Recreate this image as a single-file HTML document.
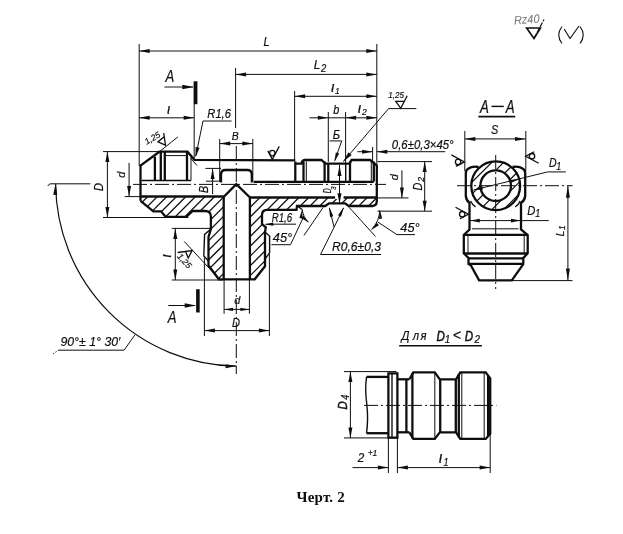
<!DOCTYPE html>
<html><head><meta charset="utf-8"><title>Черт. 2</title>
<style>
html,body{margin:0;padding:0;background:#fff;}
body{width:623px;height:534px;overflow:hidden;font-family:"Liberation Sans",sans-serif;}
svg{display:block}
</style></head><body>
<svg width="623" height="534" viewBox="0 0 623 534" stroke="#111" fill="none" stroke-linecap="butt" stroke-linejoin="miter">
<rect x="0" y="0" width="623" height="534" fill="#fff" stroke="none"/>
<defs><filter id="bl" x="0" y="0" width="623" height="534" filterUnits="userSpaceOnUse"><feGaussianBlur stdDeviation="0.4"/></filter></defs>
<g filter="url(#bl)">
<clipPath id="c1"><path d="M140.5,196.5 L223.7,196.5 L223.7,279.3 L218.9,279.3 L208.5,265.5 L208.5,237.0 L210.9,229.0 L210.9,214.5 L207.0,210.8 L192.7,211.0 L186.2,216.8 L165.6,216.8 L161.0,211.3 L153.4,211.3 L140.5,200.8 Z" clip-rule="evenodd"/></clipPath>
<g clip-path="url(#c1)">
<line x1="139.5" y1="195.2" x2="224.7" y2="110.1" stroke-width="1.3" />
<line x1="139.5" y1="204.8" x2="224.7" y2="119.6" stroke-width="1.3" />
<line x1="139.5" y1="214.4" x2="224.7" y2="129.2" stroke-width="1.3" />
<line x1="139.5" y1="223.9" x2="224.7" y2="138.7" stroke-width="1.3" />
<line x1="139.5" y1="233.5" x2="224.7" y2="148.3" stroke-width="1.3" />
<line x1="139.5" y1="243.0" x2="224.7" y2="157.8" stroke-width="1.3" />
<line x1="139.5" y1="252.6" x2="224.7" y2="167.4" stroke-width="1.3" />
<line x1="139.5" y1="262.1" x2="224.7" y2="176.9" stroke-width="1.3" />
<line x1="139.5" y1="271.7" x2="224.7" y2="186.5" stroke-width="1.3" />
<line x1="139.5" y1="281.2" x2="224.7" y2="196.0" stroke-width="1.3" />
<line x1="139.5" y1="290.8" x2="224.7" y2="205.6" stroke-width="1.3" />
<line x1="139.5" y1="300.3" x2="224.7" y2="215.1" stroke-width="1.3" />
<line x1="139.5" y1="309.9" x2="224.7" y2="224.7" stroke-width="1.3" />
<line x1="139.5" y1="319.4" x2="224.7" y2="234.2" stroke-width="1.3" />
<line x1="139.5" y1="329.0" x2="224.7" y2="243.8" stroke-width="1.3" />
<line x1="139.5" y1="338.5" x2="224.7" y2="253.3" stroke-width="1.3" />
<line x1="139.5" y1="348.1" x2="224.7" y2="262.9" stroke-width="1.3" />
<line x1="139.5" y1="357.6" x2="224.7" y2="272.4" stroke-width="1.3" />
<line x1="139.5" y1="367.2" x2="224.7" y2="282.0" stroke-width="1.3" />
</g>
<clipPath id="c2"><path d="M249.9,197.5 L376.8,197.5 L376.8,201.2 L373.0,206.0 L348.7,206.0 L345.0,203.4 L329.0,203.4 L325.3,206.0 L297.0,206.0 L296.5,209.8 L266.5,209.8 L262.0,214.5 L262.0,224.0 L265.0,232.0 L265.0,266.3 L254.7,279.3 L249.9,279.3 Z" clip-rule="evenodd"/></clipPath>
<g clip-path="url(#c2)">
<line x1="248.9" y1="189.1" x2="377.8" y2="60.2" stroke-width="1.3" />
<line x1="248.9" y1="198.8" x2="377.8" y2="69.9" stroke-width="1.3" />
<line x1="248.9" y1="208.6" x2="377.8" y2="79.7" stroke-width="1.3" />
<line x1="248.9" y1="218.3" x2="377.8" y2="89.4" stroke-width="1.3" />
<line x1="248.9" y1="228.1" x2="377.8" y2="99.2" stroke-width="1.3" />
<line x1="248.9" y1="237.8" x2="377.8" y2="108.9" stroke-width="1.3" />
<line x1="248.9" y1="247.6" x2="377.8" y2="118.7" stroke-width="1.3" />
<line x1="248.9" y1="257.4" x2="377.8" y2="128.4" stroke-width="1.3" />
<line x1="248.9" y1="267.1" x2="377.8" y2="138.2" stroke-width="1.3" />
<line x1="248.9" y1="276.9" x2="377.8" y2="147.9" stroke-width="1.3" />
<line x1="248.9" y1="286.6" x2="377.8" y2="157.7" stroke-width="1.3" />
<line x1="248.9" y1="296.4" x2="377.8" y2="167.4" stroke-width="1.3" />
<line x1="248.9" y1="306.1" x2="377.8" y2="177.2" stroke-width="1.3" />
<line x1="248.9" y1="315.9" x2="377.8" y2="186.9" stroke-width="1.3" />
<line x1="248.9" y1="325.6" x2="377.8" y2="196.7" stroke-width="1.3" />
<line x1="248.9" y1="335.4" x2="377.8" y2="206.4" stroke-width="1.3" />
<line x1="248.9" y1="345.1" x2="377.8" y2="216.2" stroke-width="1.3" />
<line x1="248.9" y1="354.9" x2="377.8" y2="225.9" stroke-width="1.3" />
<line x1="248.9" y1="364.6" x2="377.8" y2="235.7" stroke-width="1.3" />
<line x1="248.9" y1="374.4" x2="377.8" y2="245.4" stroke-width="1.3" />
<line x1="248.9" y1="384.1" x2="377.8" y2="255.2" stroke-width="1.3" />
<line x1="248.9" y1="393.9" x2="377.8" y2="264.9" stroke-width="1.3" />
<line x1="248.9" y1="403.6" x2="377.8" y2="274.7" stroke-width="1.3" />
<line x1="248.9" y1="413.4" x2="377.8" y2="284.4" stroke-width="1.3" />
</g>
<path d="M140.5,200.8 L140.5,165.6 L159.4,151.7 L187.5,151.7 L194.5,159.8 L295.3,160.3" stroke-width="2.3" fill="none" />
<line x1="154.9" y1="156.5" x2="154.9" y2="180.5" stroke-width="2.3" />
<line x1="160.8" y1="152.0" x2="160.8" y2="180.5" stroke-width="2.3" />
<line x1="164.8" y1="151.7" x2="164.8" y2="180.5" stroke-width="2.3" />
<line x1="187.0" y1="151.7" x2="187.0" y2="180.5" stroke-width="2.3" />
<line x1="191.0" y1="156.5" x2="191.0" y2="180.5" stroke-width="1.0" />
<line x1="164.8" y1="155.6" x2="187.0" y2="155.6" stroke-width="1.0" />
<line x1="141.5" y1="180.5" x2="191.0" y2="180.5" stroke-width="1.3" />
<line x1="190.5" y1="158.0" x2="197.0" y2="165.5" stroke-width="1.0" />
<path d="M140.5,200.8 L153.4,211.3 L161.0,211.3 L165.6,216.8 L186.2,216.8 L192.7,211.0 L205.0,211.0" stroke-width="2.3" fill="none" />
<path d="M205,211 Q210.9,211 210.9,216.5 L210.9,229 L208.5,237 L208.5,265.5 L218.9,279.3 L254.7,279.3 L265,266.3 L265,232 L265.8,227.3 L262,224 L262,215 Q262,209.8 267,209.8 L296.5,209.8 L297,206 L325.3,206 L329,203.4 L345,203.4 L348.7,206 L372.5,206 Q376.8,205.5 376.8,201.2 L376.8,165.6 L370.2,160 L351.5,160 L349.6,163.7 L325.3,163.7 L321.5,160 L304.7,160 Q302,160.5 301.5,163.7 L295.3,163.7" stroke-width="2.3" fill="none" />
<path d="M210.9,229.0 L204.6,234.4 L203.8,256.0 L208.5,261.0" stroke-width="1.4" fill="none" />
<path d="M265.0,232.0 L269.6,236.0 L269.6,252.8 L265.0,259.0" stroke-width="1.4" fill="none" />
<line x1="140.5" y1="196.5" x2="223.7" y2="196.5" stroke-width="2.3" />
<line x1="249.9" y1="197.5" x2="376.8" y2="197.5" stroke-width="2.3" />
<path d="M223.7,279.3 L223.7,197.0 L236.3,184.2 L249.9,197.5 L249.9,279.3" stroke-width="2.3" fill="none" />
<path d="M221,182.5 L221,174.5 Q221,170 225.5,170 L247.3,170 Q251.8,170 251.8,174.5 L251.8,182.5" stroke-width="2.3" fill="none" />
<line x1="295.3" y1="161.5" x2="295.3" y2="181.5" stroke-width="2.3" />
<line x1="303.5" y1="161.5" x2="303.5" y2="181.5" stroke-width="2.3" />
<line x1="306.3" y1="161.5" x2="306.3" y2="181.5" stroke-width="1.0" />
<line x1="324.6" y1="161.5" x2="324.6" y2="181.5" stroke-width="2.3" />
<line x1="328.3" y1="163.7" x2="328.3" y2="181.5" stroke-width="2.3" />
<line x1="345.7" y1="163.7" x2="345.7" y2="181.5" stroke-width="1.4" />
<line x1="350.0" y1="161.5" x2="350.0" y2="181.5" stroke-width="2.3" />
<line x1="371.3" y1="161.5" x2="371.3" y2="181.5" stroke-width="1.0" />
<line x1="373.8" y1="161.5" x2="373.8" y2="181.5" stroke-width="2.3" />
<line x1="253.5" y1="181.9" x2="373.8" y2="181.9" stroke-width="2.3" />
<line x1="206.0" y1="181.2" x2="220.0" y2="181.2" stroke-width="1.0" />
<line x1="297.5" y1="206.0" x2="302.0" y2="209.5" stroke-width="1.4" />
<line x1="133.0" y1="184.4" x2="386.0" y2="184.4" stroke-width="1.0" stroke-dasharray="14 3 2 3"/>
<line x1="236.3" y1="146.0" x2="236.3" y2="374.0" stroke-width="1.0" stroke-dasharray="14 3 2 3"/>
<line x1="139.2" y1="44.0" x2="139.2" y2="166.0" stroke-width="1.0" />
<line x1="376.8" y1="44.0" x2="376.8" y2="170.0" stroke-width="1.0" />
<line x1="139.2" y1="51.0" x2="376.8" y2="51.0" stroke-width="1.0" />
<polygon points="139.2,51.0 149.7,49.0 149.7,53.0" fill="#111" stroke="none"/>
<polygon points="376.8,51.0 366.3,53.0 366.3,49.0" fill="#111" stroke="none"/>
<text transform="translate(266.5,46.3) scale(0.9,1)" font-family="Liberation Sans" font-size="12.5" font-style="italic" font-weight="normal" text-anchor="middle" fill="#111" stroke="#111" stroke-width="0.2" >L</text>
<line x1="235.6" y1="68.0" x2="235.6" y2="128.0" stroke-width="1.0" />
<line x1="235.6" y1="74.4" x2="376.8" y2="74.4" stroke-width="1.0" />
<polygon points="235.6,74.4 246.1,72.4 246.1,76.4" fill="#111" stroke="none"/>
<polygon points="376.8,74.4 366.3,76.4 366.3,72.4" fill="#111" stroke="none"/>
<text transform="translate(317.0,68.7) scale(0.9,1)" font-family="Liberation Sans" font-size="13.5" font-style="italic" font-weight="normal" text-anchor="middle" fill="#111" stroke="#111" stroke-width="0.2" >L</text>
<text transform="translate(323.7,71.5) scale(0.9,1)" font-family="Liberation Sans" font-size="10.5" font-style="italic" font-weight="normal" text-anchor="middle" fill="#111" stroke="#111" stroke-width="0.2" >2</text>
<line x1="294.6" y1="91.0" x2="294.6" y2="160.0" stroke-width="1.0" />
<line x1="294.6" y1="96.3" x2="376.8" y2="96.3" stroke-width="1.0" />
<polygon points="294.6,96.3 305.1,94.3 305.1,98.3" fill="#111" stroke="none"/>
<polygon points="376.8,96.3 366.3,98.3 366.3,94.3" fill="#111" stroke="none"/>
<text transform="translate(332.6,92.1)" font-family="Liberation Sans" font-size="15.5" font-style="italic" font-weight="normal" text-anchor="middle" fill="#111" stroke="#111" stroke-width="0.2" >ι</text>
<text transform="translate(337.4,94.0) scale(0.9,1)" font-family="Liberation Sans" font-size="9.5" font-style="italic" font-weight="normal" text-anchor="middle" fill="#111" stroke="#111" stroke-width="0.2" >1</text>
<line x1="328.3" y1="112.0" x2="328.3" y2="162.0" stroke-width="1.0" />
<line x1="345.6" y1="112.0" x2="345.6" y2="163.0" stroke-width="1.0" />
<line x1="309.5" y1="117.8" x2="376.8" y2="117.8" stroke-width="1.0" />
<polygon points="328.3,117.8 317.8,119.8 317.8,115.8" fill="#111" stroke="none"/>
<polygon points="345.6,117.8 356.1,115.8 356.1,119.8" fill="#111" stroke="none"/>
<polygon points="376.8,117.8 366.3,119.8 366.3,115.8" fill="#111" stroke="none"/>
<text transform="translate(336.2,114.3) scale(0.9,1)" font-family="Liberation Sans" font-size="12" font-style="italic" font-weight="normal" text-anchor="middle" fill="#111" stroke="#111" stroke-width="0.2" >b</text>
<text transform="translate(359.4,113.0)" font-family="Liberation Sans" font-size="15.5" font-style="italic" font-weight="normal" text-anchor="middle" fill="#111" stroke="#111" stroke-width="0.2" >ι</text>
<text transform="translate(364.3,114.8) scale(0.9,1)" font-family="Liberation Sans" font-size="9.5" font-style="italic" font-weight="normal" text-anchor="middle" fill="#111" stroke="#111" stroke-width="0.2" >2</text>
<text transform="translate(336.5,138.5) scale(0.9,1)" font-family="Liberation Sans" font-size="12.5" font-style="italic" font-weight="normal" text-anchor="middle" fill="#111" stroke="#111" stroke-width="0.2" >Б</text>
<line x1="329.6" y1="140.9" x2="341.7" y2="140.9" stroke-width="1.0" />
<line x1="341.7" y1="140.9" x2="334.8" y2="160.5" stroke-width="1.0" />
<polygon points="334.4,162.0 335.8,152.4 339.2,153.6" fill="#111" stroke="none"/>
<line x1="388.6" y1="108.6" x2="343.6" y2="161.2" stroke-width="1.0" />
<polygon points="342.9,162.0 348.5,152.3 351.6,154.9" fill="#111" stroke="none"/>
<line x1="388.6" y1="108.6" x2="416.3" y2="108.6" stroke-width="1.0" />
<path d="M407.2,95.8 L400.7,108.3 L395.8,101.4 L404.3,101.4" stroke-width="1.3" fill="none" />
<text transform="translate(396.2,97.5) scale(0.9,1)" font-family="Liberation Sans" font-size="9" font-style="italic" font-weight="normal" text-anchor="middle" fill="#111" stroke="#111" stroke-width="0.2" >1,25</text>
<line x1="372.6" y1="147.0" x2="372.6" y2="161.0" stroke-width="1.0" />
<line x1="357.3" y1="151.7" x2="372.6" y2="151.7" stroke-width="1.0" />
<polygon points="372.6,151.7 362.1,153.7 362.1,149.7" fill="#111" stroke="none"/>
<line x1="376.8" y1="151.7" x2="445.2" y2="151.7" stroke-width="1.0" />
<polygon points="376.8,151.7 387.3,149.7 387.3,153.7" fill="#111" stroke="none"/>
<text transform="translate(422.7,148.8)" font-family="Liberation Sans" font-size="12.4" font-style="italic" font-weight="normal" text-anchor="middle" fill="#111" stroke="#111" stroke-width="0.2" textLength="61.8" lengthAdjust="spacingAndGlyphs">0,6±0,3×45°</text>
<line x1="377.5" y1="161.6" x2="432.0" y2="161.6" stroke-width="1.0" />
<line x1="377.5" y1="211.2" x2="432.0" y2="211.2" stroke-width="1.0" />
<line x1="424.7" y1="161.6" x2="424.7" y2="211.2" stroke-width="1.0" />
<polygon points="424.7,161.6 426.7,172.1 422.7,172.1" fill="#111" stroke="none"/>
<polygon points="424.7,211.2 422.7,200.7 426.7,200.7" fill="#111" stroke="none"/>
<text transform="translate(421.6,186.7) rotate(-90) scale(0.85,1)" font-family="Liberation Sans" font-size="12.8" font-style="italic" font-weight="normal" text-anchor="middle" fill="#111" stroke="#111" stroke-width="0.2" >D</text>
<text transform="translate(423.6,179.3) rotate(-90) scale(0.9,1)" font-family="Liberation Sans" font-size="9.5" font-style="italic" font-weight="normal" text-anchor="middle" fill="#111" stroke="#111" stroke-width="0.2" >2</text>
<line x1="377.5" y1="197.9" x2="408.5" y2="197.9" stroke-width="1.0" />
<line x1="401.9" y1="170.4" x2="401.9" y2="197.9" stroke-width="1.0" />
<polygon points="401.9,197.9 399.9,187.4 403.9,187.4" fill="#111" stroke="none"/>
<text transform="translate(398.0,177.3) rotate(-90) scale(0.95,1)" font-family="Liberation Sans" font-size="11.5" font-style="italic" font-weight="normal" text-anchor="middle" fill="#111" stroke="#111" stroke-width="0.2" >d</text>
<line x1="335.1" y1="197.5" x2="343.6" y2="197.5" stroke-width="3" stroke="#fff"/>
<line x1="339.5" y1="165.0" x2="339.5" y2="203.4" stroke-width="1.0" />
<polygon points="339.5,165.2 341.5,176.0 337.5,176.0" fill="#111" stroke="none"/>
<polygon points="339.5,204.0 337.5,193.2 341.5,193.2" fill="#111" stroke="none"/>
<text transform="translate(331.0,190.7) rotate(-90) scale(0.62,1)" font-family="Liberation Sans" font-size="11" font-style="italic" font-weight="normal" text-anchor="middle" fill="#111" stroke="#111" stroke-width="0.2" >D</text>
<text transform="translate(336.0,188.1) rotate(-90) scale(0.8,1)" font-family="Liberation Sans" font-size="8" font-style="italic" font-weight="normal" text-anchor="middle" fill="#111" stroke="#111" stroke-width="0.2" >3</text>
<line x1="195.5" y1="81.3" x2="195.5" y2="104.2" stroke-width="3.8" />
<line x1="164.5" y1="87.0" x2="193.0" y2="87.0" stroke-width="1.0" />
<polygon points="193.8,87.0 182.3,89.3 182.3,84.7" fill="#111" stroke="none"/>
<text transform="translate(169.8,82.1) scale(0.82,1)" font-family="Liberation Sans" font-size="16" font-style="italic" font-weight="normal" text-anchor="middle" fill="#111" stroke="#111" stroke-width="0.2" >A</text>
<line x1="197.9" y1="289.2" x2="197.9" y2="312.5" stroke-width="3.6" />
<line x1="168.2" y1="305.5" x2="195.0" y2="305.5" stroke-width="1.0" />
<polygon points="196.2,305.5 184.7,307.8 184.7,303.2" fill="#111" stroke="none"/>
<text transform="translate(172.2,322.9) scale(0.82,1)" font-family="Liberation Sans" font-size="16" font-style="italic" font-weight="normal" text-anchor="middle" fill="#111" stroke="#111" stroke-width="0.2" >A</text>
<line x1="194.2" y1="104.0" x2="194.2" y2="158.0" stroke-width="1.0" />
<line x1="139.2" y1="117.8" x2="194.2" y2="117.8" stroke-width="1.0" />
<polygon points="139.2,117.8 149.7,115.8 149.7,119.8" fill="#111" stroke="none"/>
<polygon points="194.2,117.8 183.7,119.8 183.7,115.8" fill="#111" stroke="none"/>
<text transform="translate(168.5,113.8)" font-family="Liberation Sans" font-size="14.5" font-style="italic" font-weight="normal" text-anchor="middle" fill="#111" stroke="#111" stroke-width="0.2" >ι</text>
<text transform="translate(219.1,117.9)" font-family="Liberation Sans" font-size="13" font-style="italic" font-weight="normal" text-anchor="middle" fill="#111" stroke="#111" stroke-width="0.2" textLength="23.5" lengthAdjust="spacingAndGlyphs">R1,6</text>
<line x1="203.0" y1="121.0" x2="231.5" y2="121.0" stroke-width="1.0" />
<line x1="203.0" y1="121.0" x2="195.8" y2="156.0" stroke-width="1.0" />
<polygon points="195.5,157.6 195.6,146.9 199.6,147.7" fill="#111" stroke="none"/>
<line x1="219.7" y1="139.0" x2="219.7" y2="181.0" stroke-width="1.0" />
<line x1="252.8" y1="139.0" x2="252.8" y2="181.0" stroke-width="1.0" />
<line x1="219.7" y1="143.6" x2="252.8" y2="143.6" stroke-width="1.0" />
<polygon points="219.7,143.6 230.2,141.6 230.2,145.6" fill="#111" stroke="none"/>
<polygon points="252.8,143.6 242.3,145.6 242.3,141.6" fill="#111" stroke="none"/>
<text transform="translate(235.3,140.3) scale(0.9,1)" font-family="Liberation Sans" font-size="11.5" font-style="italic" font-weight="normal" text-anchor="middle" fill="#111" stroke="#111" stroke-width="0.2" >B</text>
<line x1="159.4" y1="151.7" x2="177.9" y2="136.9" stroke-width="1.0" />
<path d="M163.7,133.0 L165.5,145.1 L157.9,141.9 L164.3,136.6" stroke-width="1.3" fill="none" />
<text transform="translate(153.9,140.6) rotate(-31)" font-family="Liberation Sans" font-size="8.5" font-style="italic" font-weight="normal" text-anchor="middle" fill="#111" stroke="#111" stroke-width="0.2" >1,25</text>
<g transform="translate(272.3,159.4) rotate(0)">
<path d="M-4.5,-8.5 L0.0,0.0 L7.0,-13.0" stroke-width="1.3" fill="none" />
<circle cx="0" cy="-6.3" r="2.7" stroke-width="1.3" fill="none"/>
</g>
<line x1="103.0" y1="151.6" x2="160.0" y2="151.6" stroke-width="1.0" />
<line x1="103.0" y1="217.5" x2="188.5" y2="217.5" stroke-width="1.0" />
<line x1="107.4" y1="151.6" x2="107.4" y2="217.5" stroke-width="1.0" />
<polygon points="107.4,151.6 109.4,162.1 105.4,162.1" fill="#111" stroke="none"/>
<polygon points="107.4,217.5 105.4,207.0 109.4,207.0" fill="#111" stroke="none"/>
<text transform="translate(102.8,187.0) rotate(-90) scale(0.83,1)" font-family="Liberation Sans" font-size="13.4" font-style="italic" font-weight="normal" text-anchor="middle" fill="#111" stroke="#111" stroke-width="0.2" >D</text>
<line x1="124.7" y1="196.6" x2="141.0" y2="196.6" stroke-width="1.0" />
<line x1="129.1" y1="162.9" x2="129.1" y2="196.6" stroke-width="1.0" />
<polygon points="129.1,196.6 127.1,186.1 131.1,186.1" fill="#111" stroke="none"/>
<text transform="translate(125.0,174.6) rotate(-90) scale(0.95,1)" font-family="Liberation Sans" font-size="11.5" font-style="italic" font-weight="normal" text-anchor="middle" fill="#111" stroke="#111" stroke-width="0.2" >d</text>
<line x1="205.4" y1="168.4" x2="221.0" y2="168.4" stroke-width="1.0" />
<line x1="212.6" y1="168.4" x2="212.6" y2="194.2" stroke-width="1.0" />
<polygon points="212.6,168.4 214.6,178.9 210.6,178.9" fill="#111" stroke="none"/>
<text transform="translate(207.8,189.4) rotate(-90) scale(0.83,1)" font-family="Liberation Sans" font-size="13" font-style="italic" font-weight="normal" text-anchor="middle" fill="#111" stroke="#111" stroke-width="0.2" >B</text>
<line x1="171.8" y1="228.4" x2="210.9" y2="228.4" stroke-width="1.0" />
<line x1="171.8" y1="280.0" x2="223.0" y2="280.0" stroke-width="1.0" />
<line x1="175.3" y1="228.4" x2="175.3" y2="280.0" stroke-width="1.0" />
<polygon points="175.3,228.4 177.3,238.9 173.3,238.9" fill="#111" stroke="none"/>
<polygon points="175.3,280.0 173.3,269.5 177.3,269.5" fill="#111" stroke="none"/>
<text transform="translate(171.0,256.0) rotate(-90)" font-family="Liberation Sans" font-size="14.5" font-style="italic" font-weight="normal" text-anchor="middle" fill="#111" stroke="#111" stroke-width="0.2" >ι</text>
<line x1="184.2" y1="241.4" x2="219.5" y2="279.3" stroke-width="1.0" />
<path d="M177.7,252.5 L192.1,250.6 L188.2,258.0 L185.6,251.4" stroke-width="1.3" fill="none" />
<text transform="translate(182.3,262.8) rotate(48)" font-family="Liberation Sans" font-size="8.5" font-style="italic" font-weight="normal" text-anchor="middle" fill="#111" stroke="#111" stroke-width="0.2" >1,25</text>
<line x1="224.1" y1="280.0" x2="224.1" y2="313.7" stroke-width="1.0" />
<line x1="249.4" y1="280.0" x2="249.4" y2="313.7" stroke-width="1.0" />
<line x1="224.1" y1="309.4" x2="249.4" y2="309.4" stroke-width="1.0" />
<polygon points="224.1,309.4 233.1,307.7 233.1,311.1" fill="#111" stroke="none"/>
<polygon points="249.4,309.4 240.4,311.1 240.4,307.7" fill="#111" stroke="none"/>
<text transform="translate(237.2,304.1) scale(0.95,1)" font-family="Liberation Sans" font-size="11.5" font-style="italic" font-weight="normal" text-anchor="middle" fill="#111" stroke="#111" stroke-width="0.2" >d</text>
<line x1="204.4" y1="258.0" x2="204.4" y2="336.0" stroke-width="1.0" />
<line x1="269.4" y1="254.0" x2="269.4" y2="336.0" stroke-width="1.0" />
<line x1="204.4" y1="330.6" x2="269.4" y2="330.6" stroke-width="1.0" />
<polygon points="204.4,330.6 214.9,328.6 214.9,332.6" fill="#111" stroke="none"/>
<polygon points="269.4,330.6 258.9,332.6 258.9,328.6" fill="#111" stroke="none"/>
<text transform="translate(235.9,327.0) scale(0.83,1)" font-family="Liberation Sans" font-size="13.4" font-style="italic" font-weight="normal" text-anchor="middle" fill="#111" stroke="#111" stroke-width="0.2" >D</text>
<text transform="translate(281.9,222.0)" font-family="Liberation Sans" font-size="12.5" font-style="italic" font-weight="normal" text-anchor="middle" fill="#111" stroke="#111" stroke-width="0.2" textLength="20.5" lengthAdjust="spacingAndGlyphs">R1,6</text>
<line x1="266.0" y1="224.2" x2="296.0" y2="224.2" stroke-width="1.0" />
<polygon points="264.3,224.4 273.2,222.4 273.4,225.8" fill="#111" stroke="none"/>
<text transform="translate(282.5,242.0) scale(0.95,1)" font-family="Liberation Sans" font-size="13.5" font-style="italic" font-weight="normal" text-anchor="middle" fill="#111" stroke="#111" stroke-width="0.2" >45°</text>
<line x1="271.4" y1="244.7" x2="290.5" y2="244.7" stroke-width="1.0" />
<line x1="290.5" y1="244.7" x2="303.5" y2="217.0" stroke-width="1.0" />
<line x1="323.2" y1="207.3" x2="304.0" y2="235.4" stroke-width="1.0" />
<path d="M302.2,209.5 A21,21 0 0 0 308.4,222.2" stroke-width="1.0" fill="none" />
<polygon points="302.2,209.3 302.5,218.4 299.4,218.0" fill="#111" stroke="none"/>
<polygon points="308.9,222.7 301.1,217.9 303.3,215.5" fill="#111" stroke="none"/>
<text transform="translate(356.5,251.3)" font-family="Liberation Sans" font-size="12.5" font-style="italic" font-weight="normal" text-anchor="middle" fill="#111" stroke="#111" stroke-width="0.2" textLength="49" lengthAdjust="spacingAndGlyphs">R0,6±0,3</text>
<line x1="320.5" y1="254.5" x2="381.0" y2="254.5" stroke-width="1.0" />
<line x1="320.5" y1="254.5" x2="334.1" y2="227.2" stroke-width="1.0" />
<line x1="334.1" y1="227.2" x2="329.4" y2="208.0" stroke-width="1.0" />
<polygon points="329.2,207.0 333.3,216.3 330.0,217.1" fill="#111" stroke="none"/>
<line x1="334.1" y1="227.2" x2="343.5" y2="208.0" stroke-width="1.0" />
<polygon points="343.9,207.0 341.0,216.7 338.0,215.2" fill="#111" stroke="none"/>
<line x1="349.1" y1="207.3" x2="375.5" y2="236.5" stroke-width="1.0" />
<path d="M379.8,210.5 A30,30 0 0 1 371.6,229.5" stroke-width="1.0" fill="none" />
<polygon points="379.8,209.8 382.2,218.6 379.0,218.9" fill="#111" stroke="none"/>
<polygon points="371.1,230.0 376.7,222.8 378.9,225.2" fill="#111" stroke="none"/>
<line x1="377.8" y1="222.0" x2="396.9" y2="234.6" stroke-width="1.0" />
<line x1="396.9" y1="234.6" x2="415.0" y2="234.6" stroke-width="1.0" />
<text transform="translate(410.0,231.5) scale(0.95,1)" font-family="Liberation Sans" font-size="13.5" font-style="italic" font-weight="normal" text-anchor="middle" fill="#111" stroke="#111" stroke-width="0.2" >45°</text>
<path d="M55.65,183.8 A183.36,183.36 0 0 0 236.4,366.1" stroke-width="1.2" fill="none" />
<polygon points="55.6,183.8 57.2,194.9 53.2,194.7" fill="#111" stroke="none"/>
<polygon points="236.6,366.0 225.6,368.2 225.6,364.2" fill="#111" stroke="none"/>
<line x1="50.3" y1="183.8" x2="90.3" y2="183.8" stroke-width="1.0" />
<path d="M50.3,183.8 Q48.5,184.3 47.8,186" stroke-width="1.0" fill="none" />
<text transform="translate(90.4,345.7)" font-family="Liberation Sans" font-size="13.5" font-style="italic" font-weight="normal" text-anchor="middle" fill="#111" stroke="#111" stroke-width="0.2" textLength="60" lengthAdjust="spacingAndGlyphs">90°± 1° 30′</text>
<line x1="57.9" y1="350.2" x2="124.1" y2="350.2" stroke-width="1.0" />
<line x1="124.1" y1="350.2" x2="134.9" y2="334.9" stroke-width="1.0" />
<line x1="53.0" y1="354.0" x2="57.9" y2="350.4" stroke-width="0.9" stroke-dasharray="1.5 1.5"/>
<text transform="translate(484.5,112.9) scale(0.72,1)" font-family="Liberation Sans" font-size="18.5" font-style="italic" font-weight="normal" text-anchor="middle" fill="#111" stroke="#111" stroke-width="0.2" >A</text>
<text transform="translate(510.3,112.9) scale(0.72,1)" font-family="Liberation Sans" font-size="18.5" font-style="italic" font-weight="normal" text-anchor="middle" fill="#111" stroke="#111" stroke-width="0.2" >A</text>
<line x1="491.5" y1="106.4" x2="503.8" y2="106.4" stroke-width="1.4" />
<line x1="478.4" y1="116.6" x2="515.2" y2="116.6" stroke-width="1.7" />
<line x1="464.8" y1="131.0" x2="464.8" y2="171.0" stroke-width="1.0" />
<line x1="525.8" y1="131.0" x2="525.8" y2="171.0" stroke-width="1.0" />
<line x1="464.8" y1="138.9" x2="525.5" y2="138.9" stroke-width="1.0" />
<polygon points="464.8,138.9 475.3,136.9 475.3,140.9" fill="#111" stroke="none"/>
<polygon points="525.5,138.9 515.0,140.9 515.0,136.9" fill="#111" stroke="none"/>
<text transform="translate(494.5,134.1) scale(0.85,1)" font-family="Liberation Sans" font-size="12.8" font-style="italic" font-weight="normal" text-anchor="middle" fill="#111" stroke="#111" stroke-width="0.2" >S</text>
<clipPath id="c3"><path d="M471.3,185.7 A24.4,24.4 0 1 0 520.1,185.7 A24.4,24.4 0 1 0 471.3,185.7 Z M480.4,185.7 A15.3,15.3 0 1 0 511.0,185.7 A15.3,15.3 0 1 0 480.4,185.7 Z" clip-rule="evenodd"/></clipPath>
<g clip-path="url(#c3)">
<line x1="470.3" y1="160.3" x2="521.1" y2="109.5" stroke-width="1.2" />
<line x1="470.3" y1="172.1" x2="521.1" y2="121.3" stroke-width="1.2" />
<line x1="470.3" y1="183.9" x2="521.1" y2="133.1" stroke-width="1.2" />
<line x1="470.3" y1="195.7" x2="521.1" y2="144.9" stroke-width="1.2" />
<line x1="470.3" y1="207.5" x2="521.1" y2="156.7" stroke-width="1.2" />
<line x1="470.3" y1="219.3" x2="521.1" y2="168.5" stroke-width="1.2" />
<line x1="470.3" y1="231.1" x2="521.1" y2="180.3" stroke-width="1.2" />
<line x1="470.3" y1="242.9" x2="521.1" y2="192.1" stroke-width="1.2" />
<line x1="470.3" y1="254.7" x2="521.1" y2="203.9" stroke-width="1.2" />
<line x1="470.3" y1="266.5" x2="521.1" y2="215.7" stroke-width="1.2" />
</g>
<circle cx="495.7" cy="185.7" r="24.4" stroke-width="2.3" fill="none"/>
<circle cx="495.7" cy="185.7" r="15.3" stroke-width="2.3" fill="none"/>
<path d="M478.5,167 Q472,166 468.5,168.5 Q465.8,170 465.8,173 L465.8,196 Q466.3,200.5 469.5,203 L469.5,229.5 L463.8,235 L463.8,253.3 L468.5,258 L468.5,264 L470.8,265.3 L479.1,280.3 L511.8,280.3 L522.4,265.3 L523.3,264 L523.3,258 L527.7,253.3 L527.7,235 L521,229.5 L521,203 Q524.7,200.5 525.2,196 L525.2,173 Q525.2,170 522.5,168.5 Q519,166 512.5,167" stroke-width="2.3" fill="none" />
<path d="M470.5,201 Q472.5,205 475.5,206.8" stroke-width="1.4" fill="none" />
<path d="M520.2,201 Q518.5,205 515.3,206.8" stroke-width="1.4" fill="none" />
<line x1="472.0" y1="228.8" x2="518.5" y2="228.8" stroke-width="1.0" />
<line x1="463.8" y1="234.8" x2="527.7" y2="234.8" stroke-width="2.3" />
<line x1="463.8" y1="253.5" x2="527.7" y2="253.5" stroke-width="2.3" />
<line x1="468.5" y1="258.3" x2="523.3" y2="258.3" stroke-width="2.3" />
<line x1="468.5" y1="263.8" x2="523.3" y2="263.8" stroke-width="2.3" />
<line x1="468.0" y1="236.0" x2="468.0" y2="253.0" stroke-width="1.0" />
<line x1="524.2" y1="236.0" x2="524.2" y2="253.0" stroke-width="1.0" />
<line x1="457.0" y1="185.7" x2="572.5" y2="185.7" stroke-width="1.0" stroke-dasharray="14 3 2 3"/>
<line x1="495.7" y1="155.0" x2="495.7" y2="289.0" stroke-width="1.0" stroke-dasharray="14 3 2 3"/>
<line x1="470.0" y1="220.6" x2="548.8" y2="220.6" stroke-width="1.0" />
<polygon points="470.3,220.6 479.8,218.8 479.8,222.4" fill="#111" stroke="none"/>
<polygon points="520.5,220.6 511.0,222.4 511.0,218.8" fill="#111" stroke="none"/>
<text transform="translate(531.4,215.0) scale(0.83,1)" font-family="Liberation Sans" font-size="13.5" font-style="italic" font-weight="normal" text-anchor="middle" fill="#111" stroke="#111" stroke-width="0.2" >D</text>
<text transform="translate(537.8,216.8) scale(0.9,1)" font-family="Liberation Sans" font-size="10" font-style="italic" font-weight="normal" text-anchor="middle" fill="#111" stroke="#111" stroke-width="0.2" >1</text>
<line x1="473.5" y1="190.0" x2="547.7" y2="171.9" stroke-width="1.0" />
<line x1="547.7" y1="171.9" x2="565.8" y2="171.9" stroke-width="1.0" />
<polygon points="473.0,190.2 482.3,186.1 483.1,189.4" fill="#111" stroke="none"/>
<polygon points="519.4,179.2 510.1,183.3 509.3,180.0" fill="#111" stroke="none"/>
<text transform="translate(552.8,167.0) scale(0.83,1)" font-family="Liberation Sans" font-size="12.7" font-style="italic" font-weight="normal" text-anchor="middle" fill="#111" stroke="#111" stroke-width="0.2" >D</text>
<text transform="translate(558.8,169.5) scale(0.9,1)" font-family="Liberation Sans" font-size="10" font-style="italic" font-weight="normal" text-anchor="middle" fill="#111" stroke="#111" stroke-width="0.2" >1</text>
<line x1="512.0" y1="280.6" x2="572.5" y2="280.6" stroke-width="1.0" />
<line x1="567.9" y1="185.7" x2="567.9" y2="280.6" stroke-width="1.0" />
<polygon points="567.9,185.7 569.9,197.7 565.9,197.7" fill="#111" stroke="none"/>
<polygon points="567.9,280.6 565.9,268.6 569.9,268.6" fill="#111" stroke="none"/>
<text transform="translate(563.9,233.4) rotate(-90) scale(0.9,1)" font-family="Liberation Sans" font-size="11" font-style="italic" font-weight="normal" text-anchor="middle" fill="#111" stroke="#111" stroke-width="0.2" >L</text>
<text transform="translate(565.4,227.8) rotate(-90) scale(0.9,1)" font-family="Liberation Sans" font-size="9" font-style="italic" font-weight="normal" text-anchor="middle" fill="#111" stroke="#111" stroke-width="0.2" >1</text>
<g transform="translate(464.4,161.9) rotate(-90)">
<path d="M-4.5,-8.5 L0.0,0.0 L7.0,-13.0" stroke-width="1.3" fill="none" />
<circle cx="0" cy="-6.3" r="2.7" stroke-width="1.3" fill="none"/>
</g>
<g transform="translate(525.7,156.2) rotate(90)">
<path d="M-4.5,-8.5 L0.0,0.0 L7.0,-13.0" stroke-width="1.3" fill="none" />
<circle cx="0" cy="-6.3" r="2.7" stroke-width="1.3" fill="none"/>
</g>
<g transform="translate(468.5,214.2) rotate(-90)">
<path d="M-4.5,-8.5 L0.0,0.0 L7.0,-13.0" stroke-width="1.3" fill="none" />
<circle cx="0" cy="-6.3" r="2.7" stroke-width="1.3" fill="none"/>
</g>
<path d="M534.0,38.5 L526.6,28.0 L540.5,28.0 Z" stroke-width="1.6" fill="none" />
<line x1="534.0" y1="38.5" x2="544.0" y2="19.5" stroke-width="1.2" stroke-dasharray="5 1.5"/>
<text transform="translate(527.0,23.5) rotate(-4) scale(0.92,1)" font-family="Liberation Sans" font-size="12" font-style="italic" font-weight="normal" text-anchor="middle" fill="#111" stroke="#111" stroke-width="0" opacity="0.6">Rz40</text>
<path d="M562,26.5 Q555.5,35 562,43.5" stroke-width="1.1" fill="none" />
<path d="M580,26.5 Q586.5,35 580,43.5" stroke-width="1.1" fill="none" />
<path d="M564.2,29.0 L570.0,38.5 L579.0,26.0" stroke-width="1.1" fill="none" />
<text transform="translate(405.4,340.0) scale(0.9,1)" font-family="Liberation Sans" font-size="12.5" font-style="italic" font-weight="normal" text-anchor="middle" fill="#111" stroke="#111" stroke-width="0.2" >Д</text>
<text transform="translate(415.9,340.0) scale(0.9,1)" font-family="Liberation Sans" font-size="12.5" font-style="italic" font-weight="normal" text-anchor="middle" fill="#111" stroke="#111" stroke-width="0.2" >л</text>
<text transform="translate(423.6,340.0) scale(0.9,1)" font-family="Liberation Sans" font-size="12.5" font-style="italic" font-weight="normal" text-anchor="middle" fill="#111" stroke="#111" stroke-width="0.2" >я</text>
<text transform="translate(440.6,340.5) scale(0.83,1)" font-family="Liberation Sans" font-size="14" font-style="italic" font-weight="normal" text-anchor="middle" fill="#111" stroke="#111" stroke-width="0.5" >D</text>
<text transform="translate(447.4,343.1) scale(0.9,1)" font-family="Liberation Sans" font-size="11" font-style="italic" font-weight="normal" text-anchor="middle" fill="#111" stroke="#111" stroke-width="0.2" >1</text>
<text transform="translate(457.0,340.3)" font-family="Liberation Sans" font-size="14" font-style="normal" font-weight="normal" text-anchor="middle" fill="#111" stroke="#111" stroke-width="0.2" >&lt;</text>
<text transform="translate(469.0,340.5) scale(0.83,1)" font-family="Liberation Sans" font-size="14" font-style="italic" font-weight="normal" text-anchor="middle" fill="#111" stroke="#111" stroke-width="0.5" >D</text>
<text transform="translate(477.3,343.1) scale(0.9,1)" font-family="Liberation Sans" font-size="11" font-style="italic" font-weight="normal" text-anchor="middle" fill="#111" stroke="#111" stroke-width="0.2" >2</text>
<line x1="399.2" y1="345.8" x2="481.9" y2="345.8" stroke-width="1.5" />
<line x1="344.0" y1="371.6" x2="396.6" y2="371.6" stroke-width="1.0" />
<line x1="344.0" y1="437.9" x2="397.4" y2="437.9" stroke-width="1.0" />
<line x1="350.4" y1="371.6" x2="350.4" y2="437.9" stroke-width="1.0" />
<polygon points="350.4,371.6 352.4,382.1 348.4,382.1" fill="#111" stroke="none"/>
<polygon points="350.4,437.9 348.4,427.4 352.4,427.4" fill="#111" stroke="none"/>
<text transform="translate(347.3,405.4) rotate(-90) scale(0.85,1)" font-family="Liberation Sans" font-size="13.5" font-style="italic" font-weight="normal" text-anchor="middle" fill="#111" stroke="#111" stroke-width="0.5" >D</text>
<text transform="translate(348.6,397.3) rotate(-90) scale(0.9,1)" font-family="Liberation Sans" font-size="10" font-style="italic" font-weight="normal" text-anchor="middle" fill="#111" stroke="#111" stroke-width="0.2" >4</text>
<path d="M366.5,376.9 Q364.8,390 366.8,404 Q368.5,420 366.5,433.2" stroke-width="1.4" fill="none" />
<line x1="366.5" y1="376.9" x2="388.4" y2="376.9" stroke-width="2.3" />
<line x1="366.5" y1="433.2" x2="388.4" y2="433.2" stroke-width="2.3" />
<path d="M388.4,373.3 L397.4,373.3 L397.4,437.7 L388.4,437.7 Z" stroke-width="2.3" fill="none" />
<line x1="392.0" y1="373.3" x2="392.0" y2="437.7" stroke-width="1.4" />
<line x1="397.4" y1="379.3" x2="409.4" y2="379.3" stroke-width="2.3" />
<line x1="397.4" y1="432.3" x2="409.4" y2="432.3" stroke-width="2.3" />
<line x1="406.4" y1="379.3" x2="406.4" y2="432.3" stroke-width="2.3" />
<path d="M409.4,379.3 L413.3,372.4 L434.8,372.4 L439.8,379.3 L456,379.3 L460.3,372.4 L485.7,372.4 L490.2,378.4 L490.2,433.8 L485.7,438.9 L460.3,438.9 L456,432.3 L439.8,432.3 L434.8,438.9 L413.3,438.9 L409.4,432.3" stroke-width="2.3" fill="none" />
<line x1="412.4" y1="373.0" x2="412.4" y2="438.5" stroke-width="2.3" />
<line x1="434.8" y1="373.0" x2="434.8" y2="438.5" stroke-width="1.0" />
<line x1="440.2" y1="379.3" x2="440.2" y2="432.3" stroke-width="2.3" />
<line x1="455.8" y1="379.3" x2="455.8" y2="432.3" stroke-width="2.3" />
<line x1="458.8" y1="374.0" x2="458.8" y2="437.5" stroke-width="2.3" />
<line x1="461.8" y1="373.0" x2="461.8" y2="438.5" stroke-width="1.0" />
<line x1="484.2" y1="373.0" x2="484.2" y2="438.5" stroke-width="1.0" />
<line x1="488.1" y1="375.5" x2="488.1" y2="436.0" stroke-width="2.3" />
<line x1="364.0" y1="405.4" x2="496.5" y2="405.4" stroke-width="1.0" stroke-dasharray="14 3 2 3"/>
<line x1="388.4" y1="437.7" x2="388.4" y2="473.0" stroke-width="1.0" />
<line x1="397.4" y1="437.7" x2="397.4" y2="473.0" stroke-width="1.0" />
<line x1="490.2" y1="434.0" x2="490.2" y2="473.0" stroke-width="1.0" />
<line x1="352.5" y1="467.6" x2="388.4" y2="467.6" stroke-width="1.0" />
<polygon points="388.4,467.6 377.9,469.6 377.9,465.6" fill="#111" stroke="none"/>
<line x1="397.4" y1="467.6" x2="490.2" y2="467.6" stroke-width="1.0" />
<polygon points="397.4,467.6 407.9,465.6 407.9,469.6" fill="#111" stroke="none"/>
<polygon points="490.2,467.6 479.7,469.6 479.7,465.6" fill="#111" stroke="none"/>
<text transform="translate(361.0,461.5) scale(0.9,1)" font-family="Liberation Sans" font-size="13" font-style="italic" font-weight="normal" text-anchor="middle" fill="#111" stroke="#111" stroke-width="0.2" >2</text>
<text transform="translate(372.5,456.0) scale(0.9,1)" font-family="Liberation Sans" font-size="9.5" font-style="italic" font-weight="normal" text-anchor="middle" fill="#111" stroke="#111" stroke-width="0.2" >+1</text>
<text transform="translate(440.5,462.5)" font-family="Liberation Sans" font-size="16" font-style="italic" font-weight="normal" text-anchor="middle" fill="#111" stroke="#111" stroke-width="0.2" >ι</text>
<text transform="translate(446.0,465.5) scale(0.9,1)" font-family="Liberation Sans" font-size="10" font-style="italic" font-weight="normal" text-anchor="middle" fill="#111" stroke="#111" stroke-width="0.2" >1</text>
<text transform="translate(320.6,502.1)" font-family="Liberation Serif" font-size="15" font-style="normal" font-weight="bold" text-anchor="middle" fill="#111" stroke="#111" stroke-width="0" textLength="48.2" lengthAdjust="spacing">Черт. 2</text>
</g>
</svg>
</body></html>
